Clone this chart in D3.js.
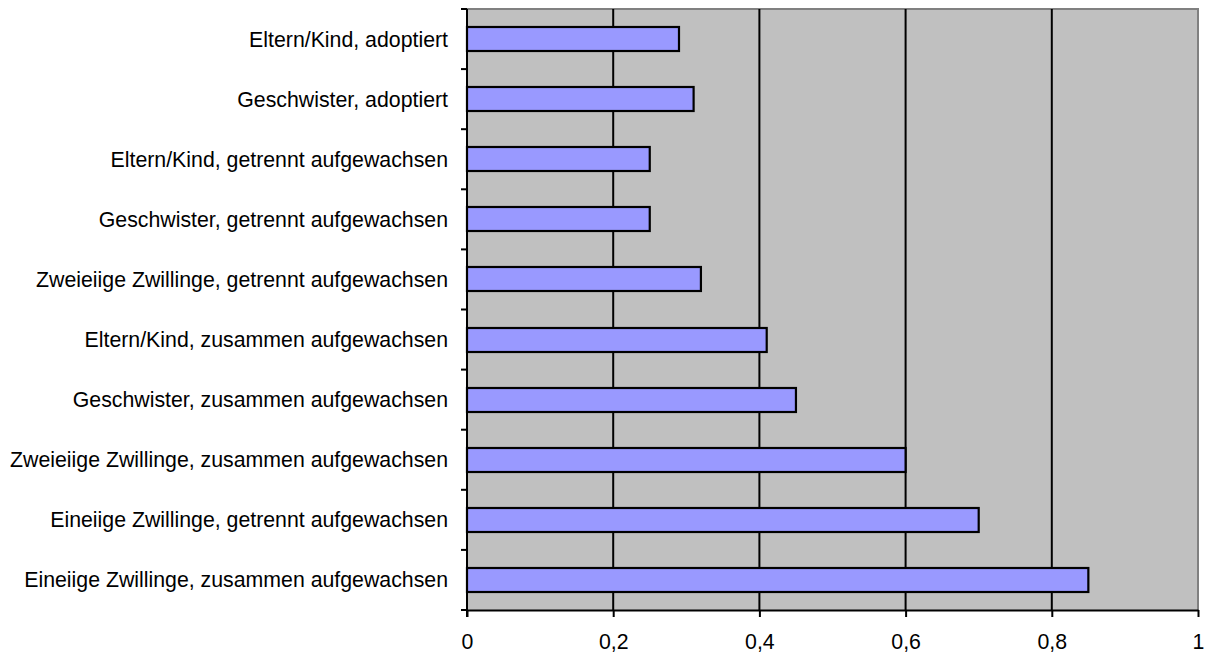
<!DOCTYPE html>
<html>
<head>
<meta charset="utf-8">
<script src="https://cdn.jsdelivr.net/npm/d3@7"></script>
<style>
  html, body { margin: 0; padding: 0; background: #ffffff; }
  svg { display: block; }
  text { font-family: "Liberation Sans", Arial, sans-serif; fill: #000; }
</style>
</head>
<body>
<svg id="chart" width="1205" height="653"></svg>
<script>
// Correlation coefficients by degree of kinship (top to bottom)
const categories = [
  "Eltern/Kind, adoptiert",
  "Geschwister, adoptiert",
  "Eltern/Kind, getrennt aufgewachsen",
  "Geschwister, getrennt aufgewachsen",
  "Zweieiige Zwillinge, getrennt aufgewachsen",
  "Eltern/Kind, zusammen aufgewachsen",
  "Geschwister, zusammen aufgewachsen",
  "Zweieiige Zwillinge, zusammen aufgewachsen",
  "Eineiige Zwillinge, getrennt aufgewachsen",
  "Eineiige Zwillinge, zusammen aufgewachsen"
];
const values = [0.29, 0.31, 0.25, 0.25, 0.32, 0.41, 0.45, 0.60, 0.70, 0.85];
const xTicks = [0, 0.2, 0.4, 0.6, 0.8, 1];
const xTickLabels = ["0", "0,2", "0,4", "0,6", "0,8", "1"];

const svg = d3.select("#chart");
const plot = { left: 467, right: 1198, top: 9, bottom: 610 };
const fontSize = "21.3px";

const x = d3.scaleLinear().domain([0, 1]).range([plot.left, plot.right]);
const y = d3.scaleBand().domain(categories).range([plot.top, plot.bottom])
  .paddingInner(0.6).paddingOuter(0.3);

// plot background
svg.append("rect")
  .attr("x", plot.left).attr("y", plot.top)
  .attr("width", plot.right - plot.left).attr("height", plot.bottom - plot.top)
  .attr("fill", "#c0c0c0");

// top and right frame
svg.append("path")
  .attr("d", `M${plot.left},${plot.top}H${plot.right}V${plot.bottom}`)
  .attr("fill", "none").attr("stroke", "#808080").attr("stroke-width", 2);

// vertical gridlines
svg.append("g").selectAll("line")
  .data(xTicks.filter(t => t > 0 && t < 1))
  .join("line")
  .attr("x1", d => x(d)).attr("x2", d => x(d))
  .attr("y1", plot.top).attr("y2", plot.bottom)
  .attr("stroke", "#000").attr("stroke-width", 2);

// bars
svg.append("g").selectAll("rect")
  .data(categories)
  .join("rect")
  .attr("x", x(0))
  .attr("y", d => Math.round(y(d)))
  .attr("width", (d, i) => x(values[i]) - x(0))
  .attr("height", Math.round(y.bandwidth()))
  .attr("fill", "#9999ff")
  .attr("stroke", "#000").attr("stroke-width", 2.2);

// category axis: tick marks sit on band boundaries
const step = (plot.bottom - plot.top) / categories.length;
const yAxis = svg.append("g");
yAxis.append("line")
  .attr("x1", plot.left).attr("x2", plot.left)
  .attr("y1", plot.top).attr("y2", plot.bottom + 7)
  .attr("stroke", "#000").attr("stroke-width", 2);
yAxis.selectAll("line.tick")
  .data(d3.range(categories.length + 1))
  .join("line").attr("class", "tick")
  .attr("x1", plot.left - 6).attr("x2", plot.left)
  .attr("y1", i => plot.top + i * step).attr("y2", i => plot.top + i * step)
  .attr("stroke", "#000").attr("stroke-width", 2);
yAxis.selectAll("text")
  .data(categories)
  .join("text")
  .attr("x", 448)
  .attr("y", d => y(d) + y.bandwidth() / 2)
  .attr("dy", "0.35em")
  .attr("text-anchor", "end")
  .style("font-size", fontSize)
  .text(d => d);

// value axis
const xAxis = d3.axisBottom(x)
  .tickValues(xTicks)
  .tickFormat((d, i) => xTickLabels[i])
  .tickSize(7)
  .tickPadding(17)
  .tickSizeOuter(0);
const gx = svg.append("g")
  .attr("transform", `translate(0,${plot.bottom})`)
  .call(xAxis);
gx.select(".domain").attr("stroke", "#000").attr("stroke-width", 2);
gx.selectAll(".tick line").attr("stroke", "#000").attr("stroke-width", 2);
gx.selectAll(".tick text")
  .style("font-size", fontSize)
  .style("font-family", "'Liberation Sans', Arial, sans-serif")
  .attr("fill", "#000");
</script>
</body>
</html>
